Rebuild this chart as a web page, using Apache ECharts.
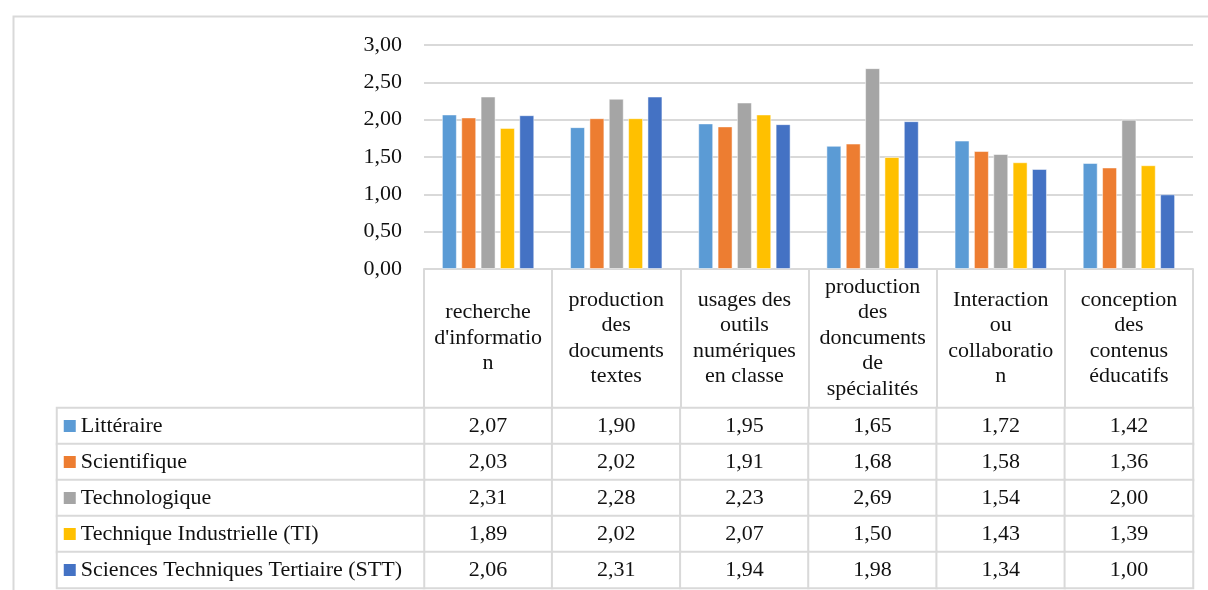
<!DOCTYPE html>
<html>
<head>
<meta charset="utf-8">
<script src="https://cdn.jsdelivr.net/npm/echarts@6/dist/echarts.min.js"></script>
<style>
html,body{margin:0;padding:0;background:#fff;}
#chart{width:1208px;height:590px;}
</style>
</head>
<body>
<div id="chart"></div>
<script>
const categories = [
  "recherche\nd'informatio\nn",
  "production\ndes\ndocuments\ntextes",
  "usages des\noutils\nnumériques\nen classe",
  "production\ndes\ndoncuments\nde\nspécialités",
  "Interaction\nou\ncollaboratio\nn",
  "conception\ndes\ncontenus\néducatifs"
];
const seriesNames = [
  "Littéraire",
  "Scientifique",
  "Technologique",
  "Technique Industrielle (TI)",
  "Sciences Techniques Tertiaire (STT)"
];
const litteraire     = [2.07, 1.90, 1.95, 1.65, 1.72, 1.42];
const scientifique   = [2.03, 2.02, 1.91, 1.68, 1.58, 1.36];
const technologique  = [2.31, 2.28, 2.23, 2.69, 1.54, 2.00];
const techniqueTI    = [1.89, 2.02, 2.07, 1.50, 1.43, 1.39];
const sciencesSTT    = [2.06, 2.31, 1.94, 1.98, 1.34, 1.00];
const yTicks = { min: 0, max: 3, interval: 0.5 };

const seriesValues = [litteraire, scientifique, technologique, techniqueTI, sciencesSTT];
const colors = ['#5B9BD5', '#ED7D31', '#A5A5A5', '#FFC000', '#4472C4'];
const FONT = "'Liberation Serif', 'Times New Roman', serif";
const FS = 22;
const TXT = '#111';
const LINE = '#d9d9d9';
const fmt = v => v.toFixed(2).replace('.', ',');

const chart = echarts.init(document.getElementById('chart'), null, { renderer: 'canvas' });

const barSeries = seriesNames.map((name, i) => ({
  type: 'bar',
  name: name,
  xAxisIndex: 0,
  yAxisIndex: 0,
  data: seriesValues[i],
  barWidth: 15,
  barGap: '29%',
  itemStyle: { color: colors[i], borderColor: 'rgba(255,255,255,0.5)', borderWidth: 1 },
  silent: true
}));

const tableData = [];
seriesValues.forEach((vals, i) => vals.forEach((v, j) => tableData.push([j, i, v])));
const legendData = seriesNames.map((n, i) => [0, i, 0]);

const rich = { t: { fontFamily: FONT, fontSize: FS, color: TXT, padding: [0, 0, 0, 5] } };
colors.forEach((c, i) => { rich['s' + i] = { width: 12, height: 12, backgroundColor: c }; });

const option = {
  animation: false,
  backgroundColor: '#fff',
  textStyle: { fontFamily: FONT },
  graphic: [{
    type: 'rect', left: 11, top: 14, silent: true,
    shape: { width: 1400, height: 800 },
    style: { fill: 'none', stroke: LINE, lineWidth: 2 }
  }],
  grid: [
    { left: 424, right: 15, top: 45, height: 224, containLabel: false },
    { left: 424, right: 15, top: 408, height: 180, containLabel: false },
    { left: 57, width: 367, top: 408, height: 180, containLabel: false }
  ],
  xAxis: [
    {
      type: 'category', gridIndex: 0, data: categories,
      axisLine: { show: true, lineStyle: { color: LINE, width: 2 } },
      axisTick: { show: true, alignWithLabel: false, length: 139, lineStyle: { color: LINE, width: 2 } },
      axisLabel: {
        interval: 0, margin: 69, verticalAlign: 'middle', align: 'center',
        fontFamily: FONT, fontSize: FS, lineHeight: 25.5, color: TXT
      },
      splitLine: { show: false }
    },
    { type: 'category', gridIndex: 1, data: categories, show: false },
    { type: 'category', gridIndex: 2, data: [''], show: false }
  ],
  yAxis: [
    {
      type: 'value', gridIndex: 0, min: yTicks.min, max: yTicks.max, interval: yTicks.interval,
      axisLine: { show: false }, axisTick: { show: false },
      axisLabel: { formatter: v => fmt(v), fontFamily: FONT, fontSize: FS, color: TXT, margin: 22 },
      splitLine: { lineStyle: { color: LINE, width: 2 } }
    },
    { type: 'category', gridIndex: 1, data: seriesNames, inverse: true, show: false },
    { type: 'category', gridIndex: 2, data: seriesNames, inverse: true, show: false }
  ],
  series: barSeries.concat([
    {
      type: 'heatmap', xAxisIndex: 1, yAxisIndex: 1, data: tableData, silent: true,
      itemStyle: { color: '#fff', borderColor: LINE, borderWidth: 2 },
      label: {
        show: true, formatter: p => fmt(p.value[2]),
        fontFamily: FONT, fontSize: FS, color: TXT
      },
      emphasis: { disabled: true }
    },
    {
      type: 'heatmap', xAxisIndex: 2, yAxisIndex: 2, data: legendData, silent: true,
      itemStyle: { color: '#fff', borderColor: LINE, borderWidth: 2 },
      label: {
        show: true, position: 'insideLeft', distance: 8,
        formatter: p => '{s' + p.value[1] + '|}{t|' + seriesNames[p.value[1]] + '}',
        rich: rich
      },
      emphasis: { disabled: true }
    }
  ])
};
chart.setOption(option);
</script>
</body>
</html>
